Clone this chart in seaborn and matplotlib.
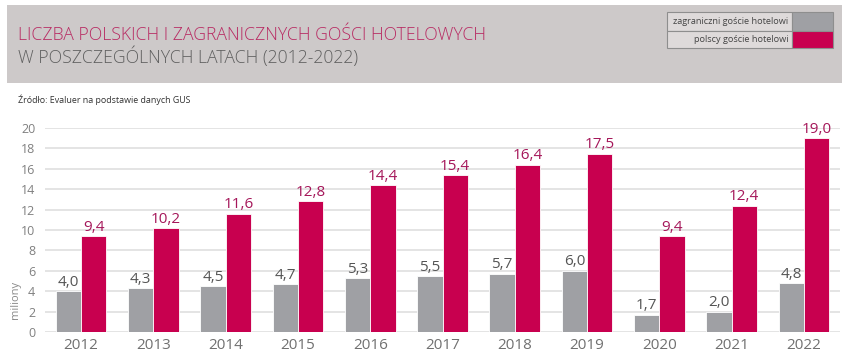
import pandas as pd
import seaborn as sns
import matplotlib.pyplot as plt
from matplotlib.patches import Rectangle

# Data: hotel guests in Poland, millions
years = ['2012', '2013', '2014', '2015', '2016', '2017', '2018', '2019', '2020', '2021', '2022']
zagraniczni = [4.0, 4.3, 4.5, 4.7, 5.3, 5.5, 5.7, 6.0, 1.7, 2.0, 4.8]
polscy = [9.4, 10.2, 11.6, 12.8, 14.4, 15.4, 16.4, 17.5, 9.4, 12.4, 19.0]
series = ['zagraniczni goście hotelowi', 'polscy goście hotelowi']

df = pd.DataFrame({
    'rok': years * 2,
    'liczba': zagraniczni + polscy,
    'grupa': [series[0]] * len(years) + [series[1]] * len(years),
})

GRAY = '#9fa0a4'
RED = '#c8004f'

sns.set_style('white')
plt.rcParams['font.family'] = ['Open Sans', 'DejaVu Sans']

W, H = 850, 359
fig = plt.figure(figsize=(W / 100, H / 100), dpi=100)

def fx(px):
    return px / W

def fy(py):
    return 1 - py / H

# header band
fig.add_artist(Rectangle((fx(7), fy(83)), fx(835), 78 / H, transform=fig.transFigure,
                         facecolor='#cdc9c9', edgecolor='none', zorder=0))
fig.text(fx(18), fy(35), 'LICZBA POLSKICH I ZAGRANICZNYCH GOŚCI HOTELOWYCH',
         color='#b82a62', fontsize=12.7, fontweight='light', va='center', ha='left')
fig.text(fx(18), fy(57), 'W POSZCZEGÓLNYCH LATACH (2012-2022)',
         color='#5f5f5f', fontsize=12.7, fontweight='light', va='center', ha='left')

# legend table in the header
rows = [(12, 31, series[0], GRAY), (31, 48, series[1], RED)]
for top, bot, label, col in rows:
    fig.add_artist(Rectangle((fx(667), fy(bot)), fx(125), (bot - top) / H, transform=fig.transFigure,
                             facecolor='#dedada', edgecolor='#8e8e8e', linewidth=0.8))
    fig.add_artist(Rectangle((fx(792), fy(bot)), fx(41), (bot - top) / H, transform=fig.transFigure,
                             facecolor=col, edgecolor='#8e8e8e', linewidth=0.8))
    fig.text(fx(788), fy((top + bot) / 2), label, color='#444444', fontsize=6.6,
             ha='right', va='center')

fig.text(fx(18), fy(100), 'Źródło: Evaluer na podstawie danych GUS', color='#333333',
         fontsize=6.4, ha='left', va='center')

# chart
ax = fig.add_axes([fx(45), fy(332), fx(795), (332 - 128) / H])
sns.barplot(data=df, x='rok', y='liczba', hue='grupa', palette=[GRAY, RED], saturation=1,
            width=0.7, edgecolor='white', linewidth=0.6, legend=False, ax=ax)

label_colors = ['#555555', '#a5175a']
for cont, lc in zip(ax.containers, label_colors):
    ax.bar_label(cont, labels=[f'{v.get_height():.1f}'.replace('.', ',') for v in cont],
                 color=lc, fontsize=11, padding=1)

ax.set_ylim(0, 20)
ax.set_xlim(-0.5, 10.5)
ax.set_yticks(range(0, 21, 2))
ax.yaxis.grid(True, color='#e2e2e2', linewidth=1.3)
ax.set_axisbelow(True)
for s in ax.spines.values():
    s.set_visible(False)
ax.tick_params(axis='y', labelsize=9, labelcolor='#808080', length=0, pad=7)
ax.tick_params(axis='x', labelsize=11, labelcolor='#707070', length=0, pad=4)
ax.set_xlabel('')
ax.set_ylabel('')

fig.text(fx(15), fy(300), 'miliony', rotation=90, color='#8a8a8a', fontsize=8,
         ha='center', va='center')

fig.savefig('out.png', dpi=100)
